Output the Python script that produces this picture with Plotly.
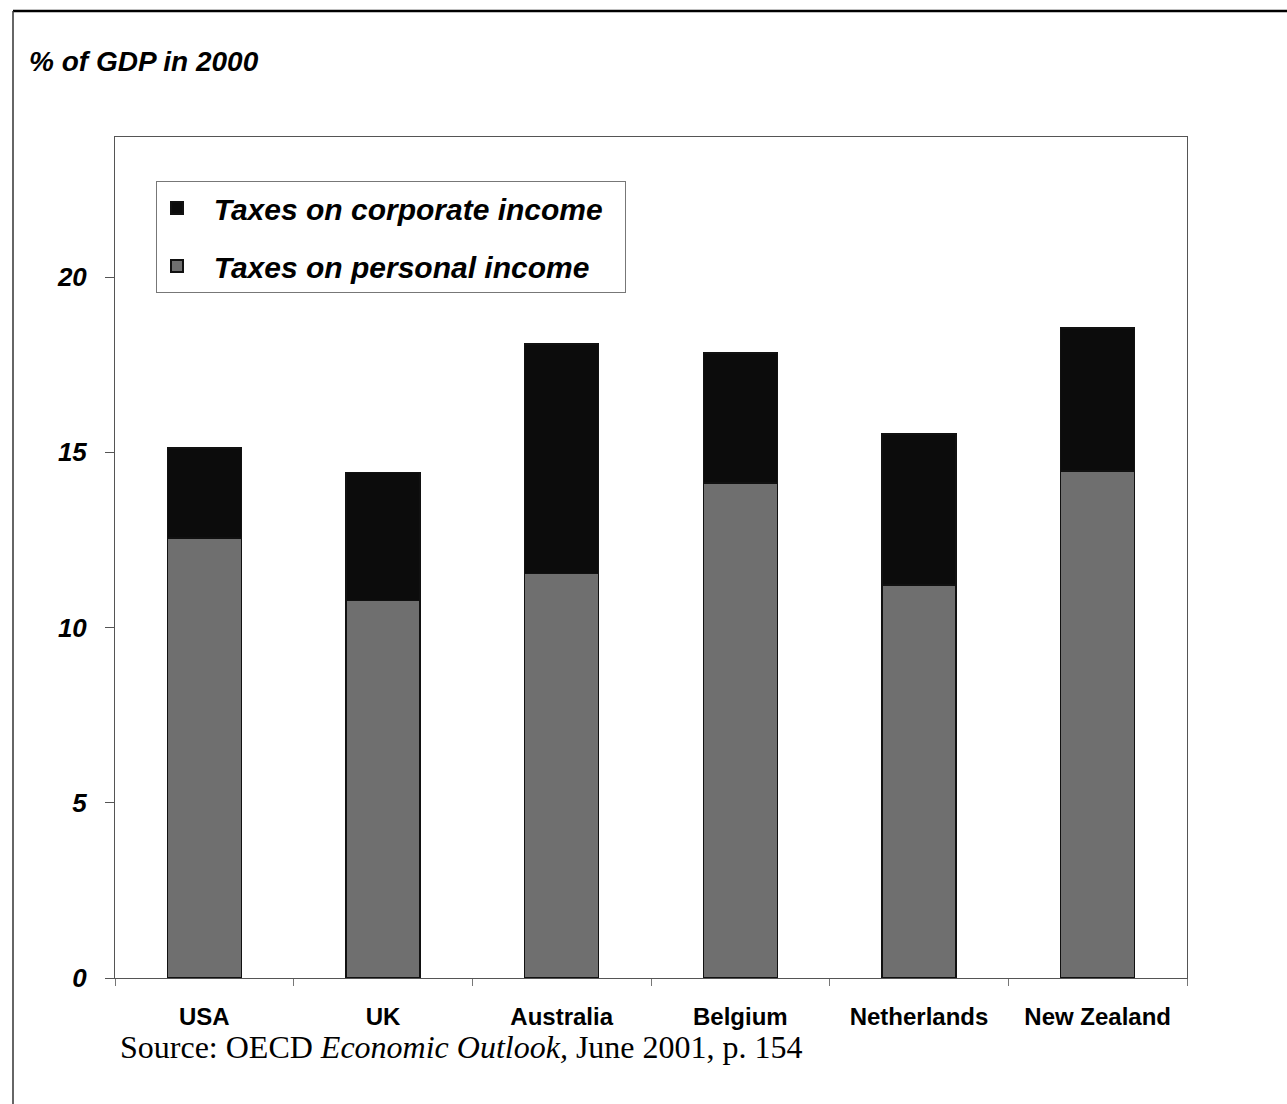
import plotly.graph_objects as go

countries = ["USA", "UK", "Australia", "Belgium", "Netherlands", "New Zealand"]
personal = [12.55, 10.77, 11.55, 14.13, 11.22, 14.47]
corporate = [2.58, 3.65, 6.55, 3.70, 4.31, 4.08]
y_ticks = [0, 5, 10, 15, 20]

W, H = 1287, 1104
L, R, T, B = 115, 100, 137, 126
pw, ph = W - L - R, H - T - B

def px(x):
    return (x - L) / pw

def py(y):
    return (H - B - y) / ph

NB = "\u00a0\u00a0"

fig = go.Figure()
fig.add_trace(go.Bar(
    x=countries, y=personal, name=NB + "Taxes on personal income" + NB,
    legendgroup="p", legendrank=2,
    marker=dict(color="#6f6f6f", line=dict(color="#111111", width=1.5)),
))
fig.add_trace(go.Bar(
    x=countries, y=corporate, name=NB + "Taxes on corporate income" + NB,
    legendgroup="c", legendrank=1,
    marker=dict(color="#0c0c0c", line=dict(color="#111111", width=1.5)),
))

fig.update_layout(
    width=W, height=H,
    barmode="stack", bargap=0.585,
    paper_bgcolor="white", plot_bgcolor="white",
    margin=dict(l=L, r=R, t=T, b=B),
    font=dict(family="Arial, Liberation Sans", color="black"),
    showlegend=True,
    legend=dict(
        x=px(156), y=py(181), xanchor="left", yanchor="top",
        traceorder="grouped",
        bgcolor="white", bordercolor="#777777", borderwidth=1,
        font=dict(size=30, weight="bold", style="italic", color="black"),
        itemsizing="constant", tracegroupgap=16,
    ),
    xaxis=dict(
        type="category", showline=True, linecolor="#555555", linewidth=1,
        mirror=True, ticks="outside", tickson="boundaries", ticklen=7,
        tickcolor="#777777", ticklabelstandoff=17,
        tickfont=dict(size=24, weight="bold", color="black"),
        showgrid=False,
    ),
    yaxis=dict(
        range=[0, 24], tickvals=y_ticks, showline=True, linecolor="#555555",
        linewidth=1, mirror=True, ticks="outside", ticklen=9,
        tickcolor="#555555", ticklabelstandoff=13,
        tickfont=dict(size=26, weight="bold", style="italic", color="black"),
        showgrid=False, zeroline=False,
    ),
)

fig.add_annotation(
    xref="paper", yref="paper", x=px(27), y=py(61), xanchor="left", yanchor="middle",
    text="<b><i>% of GDP in 2000</i></b>", showarrow=False,
    font=dict(size=28, family="Arial, Liberation Sans", color="black"),
)
fig.add_annotation(
    xref="paper", yref="paper", x=px(118), y=py(1047), xanchor="left", yanchor="middle",
    text="Source: OECD <i>Economic Outlook,</i> June 2001, p. 154", showarrow=False,
    font=dict(size=32, family="Times New Roman, Liberation Serif", color="black"),
)

# outer frame lines
fig.add_shape(type="line", xref="paper", yref="paper",
              x0=px(13), x1=px(1287), y0=py(11), y1=py(11),
              line=dict(color="black", width=2.5))
fig.add_shape(type="line", xref="paper", yref="paper",
              x0=px(13), x1=px(13), y0=py(11), y1=py(1104),
              line=dict(color="#333333", width=1.5))

fig.write_html("out.html")
